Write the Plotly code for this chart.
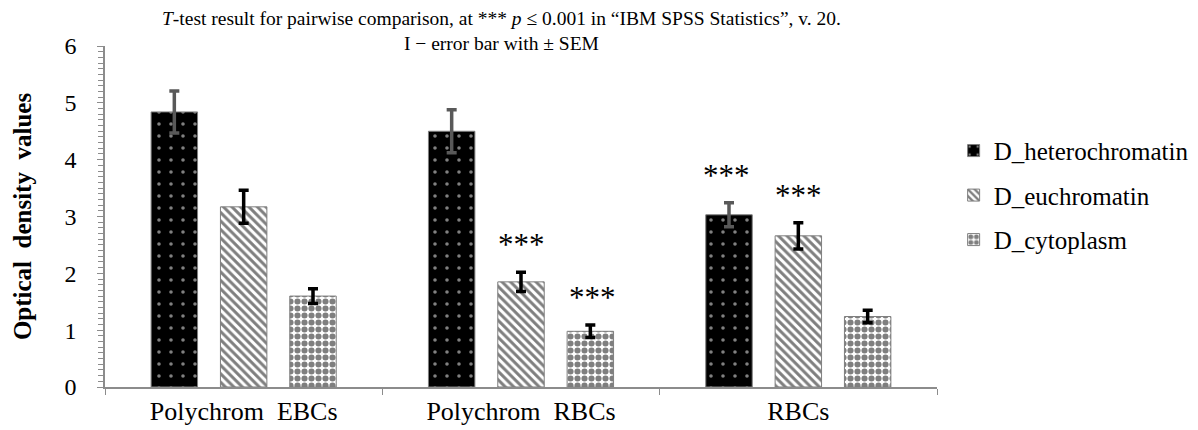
import plotly.graph_objects as go

categories = ["Polychrom  EBCs", "Polychrom  RBCs", "RBCs"]
series_names = ["D_heterochromatin", "D_euchromatin", "D_cytoplasm"]
heterochromatin = [4.84, 4.50, 3.03]
euchromatin = [3.17, 1.85, 2.66]
cytoplasm = [1.60, 0.98, 1.24]
heterochromatin_sem = [0.37, 0.38, 0.21]
euchromatin_sem = [0.29, 0.17, 0.23]
cytoplasm_sem = [0.13, 0.11, 0.11]
# significance flags (*** p <= 0.001)
heterochromatin_sig = [False, False, True]
euchromatin_sig = [False, True, True]
cytoplasm_sig = [False, True, False]

values = [heterochromatin, euchromatin, cytoplasm]
sems = [heterochromatin_sem, euchromatin_sem, cytoplasm_sem]
sigs = [heterochromatin_sig, euchromatin_sig, cytoplasm_sig]

FONT = "Liberation Serif"

patterns = [
    dict(shape=".", bgcolor="black", fgcolor="white", size=12, solidity=0.07),
    dict(shape="\\", bgcolor="white", fgcolor="black", size=6, solidity=0.5),
    dict(shape=".", bgcolor="white", fgcolor="black", size=7, solidity=0.6),
]
err_colors = ["#595959", "black", "black"]

fig = go.Figure()
for i, name in enumerate(series_names):
    fig.add_trace(go.Bar(
        x=categories, y=values[i], name=name,
        legendgroup=name,
        marker=dict(color="black" if i == 0 else "white",
                    pattern=patterns[i],
                    line=dict(color="#7f7f7f", width=1)),
        error_y=dict(type="data", array=sems[i], visible=True,
                     color=err_colors[i], thickness=3.5, width=5),
    ))

annotations = []
slot_px = 71.5
for i in range(3):
    for j, cat in enumerate(categories):
        if sigs[i][j]:
            annotations.append(dict(
                x=cat, y=values[i][j] + sems[i][j], xref="x", yref="y",
                text="***", showarrow=False, yanchor="bottom",
                xshift=(i - 1) * slot_px, yshift=8,
                font=dict(family=FONT, size=31, color="black")))

annotations.append(dict(
    x=0.477, y=1.0, xref="paper", yref="paper", yanchor="top", yshift=40,
    text="<i>T</i>-test result for pairwise comparison, at *** <i>p</i> ≤ 0.001 in “IBM SPSS Statistics”, v. 20.<br>I − error bar with ± SEM",
    showarrow=False, align="center",
    font=dict(family=FONT, size=19.5, color="black")))

fig.update_layout(
    width=1198, height=430,
    margin=dict(l=97, r=243, t=38, b=48),
    paper_bgcolor="white", plot_bgcolor="white",
    barmode="group", bargap=0.25, bargroupgap=0.33,
    font=dict(family=FONT, color="black"),
    showlegend=True,
    legend=dict(x=1.02, y=0.76, xanchor="left", yanchor="top",
                font=dict(family=FONT, size=25, color="black"),
                traceorder="grouped", tracegroupgap=9,
                itemwidth=30, bgcolor="rgba(0,0,0,0)"),
    annotations=annotations,
)
fig.update_yaxes(
    range=[0, 6], dtick=1, showgrid=False, zeroline=False,
    showline=True, linecolor="#8c8c8c", linewidth=1.5,
    ticks="outside", ticklen=6, tickcolor="#8c8c8c", tickwidth=1,
    minor=dict(dtick=0.1, ticks="outside", ticklen=5, tickcolor="#8c8c8c", tickwidth=1),
    tickfont=dict(family=FONT, size=24, color="black"),
    ticklabelstandoff=16,
    title=dict(text="<b>Optical  density  values</b>", font=dict(family=FONT, size=25, color="black"), standoff=26),
)
fig.update_xaxes(
    showgrid=False, showline=True, linecolor="#8c8c8c", linewidth=1.5,
    ticks="outside", tickson="boundaries", ticklen=6, tickcolor="#8c8c8c",
    tickfont=dict(family=FONT, size=26, color="black"),
)
fig.write_html("out.html")
